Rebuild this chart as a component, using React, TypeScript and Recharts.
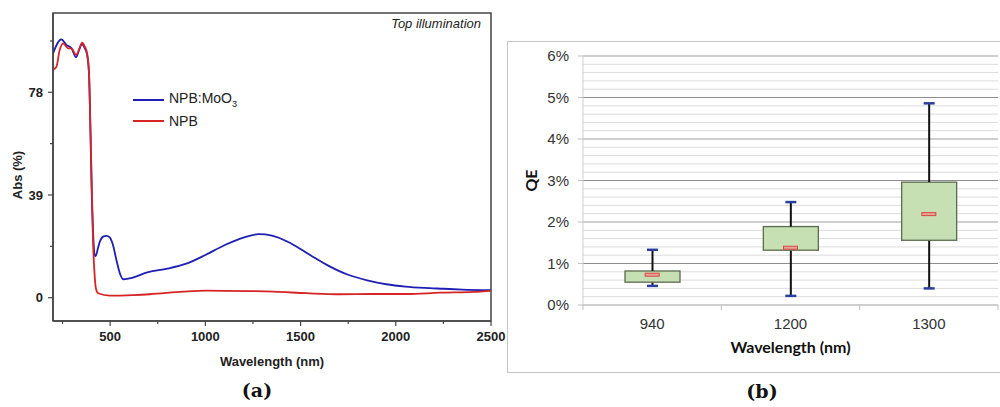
import React from "react";
import {
  LineChart,
  Line,
  XAxis,
  YAxis,
  ReferenceArea,
  Legend,
  ComposedChart,
  Bar,
  CartesianGrid,
  Label,
} from "recharts";

// ---- (a) absorption spectra ----
const moo3Wavelength = [
  200, 244, 270, 297, 321, 340, 352, 367, 379, 389, 397, 403, 410, 419, 424,
  435, 446, 463, 481, 498, 515, 533, 551, 568, 600, 700, 800, 900, 1000, 1100,
  1200, 1280, 1350, 1450, 1550, 1650, 1750, 1850, 1950, 2050, 2150, 2250, 2350,
  2500,
];
const moo3Abs = [
  92.8, 98.1, 96.0, 94.7, 91.3, 94.7, 96.3, 94.7, 92.2, 85.2, 62.5, 41.0, 25.7,
  16.2, 15.8, 18.5, 21.3, 23.2, 23.5, 22.9, 20.0, 14.3, 9.3, 7.0, 7.3, 9.7, 11.0,
  12.9, 16.2, 19.9, 22.8, 24.1, 23.6, 20.6, 16.2, 12.0, 8.7, 6.6, 5.1, 4.2, 3.7,
  3.4, 3.1, 2.9,
];
const npbWavelength = [
  200, 218, 235, 253, 279, 297, 321, 340, 352, 367, 379, 389, 397, 404, 410,
  417, 425, 437, 498, 621, 708, 883, 1003, 1234, 1357, 1532, 1707, 1881, 2058,
  2233, 2408, 2500,
];
const npbAbs = [
  86.5, 87.7, 94.0, 96.6, 94.7, 94.7, 92.2, 94.8, 96.8, 95.3, 92.8, 85.2, 62.5,
  40.9, 21.9, 10.5, 3.7, 1.7, 0.8, 1.0, 1.3, 2.3, 2.7, 2.5, 2.3, 1.7, 1.3, 1.4,
  1.4, 1.9, 2.2, 2.6,
];
const absDomain = [-8.85, 108.1];
const absTicks = [0, 19.5, 39, 58.5, 78, 97.5];
const absLabelTicks = [0, 39, 78];
const waveTicks = [250, 500, 750, 1000, 1250, 1500, 1750, 2000, 2250, 2500];
const waveLabelTicks = [500, 1000, 1500, 2000, 2500];
const legendOrder = ["NPB:MoO3", "NPB"];

// ---- (b) QE box plot (values in %) ----
const categories = ["940", "1200", "1300"];
const qeMin = [0.46, 0.22, 0.4];
const qeQ1 = [0.55, 1.32, 1.56];
const qeMedian = [0.73, 1.38, 2.19];
const qeQ3 = [0.82, 1.89, 2.96];
const qeMax = [1.33, 2.48, 4.86];
const qeTicks = [0, 1, 2, 3, 4, 5, 6];
const qeGridOdd = [1, 3, 5];
const qeGridEven = [2, 4, 6];
const qeGridMinor = [
  0.2, 0.4, 0.6, 0.8, 1.2, 1.4, 1.6, 1.8, 2.2, 2.4, 2.6, 2.8, 3.2, 3.4, 3.6,
  3.8, 4.2, 4.4, 4.6, 4.8, 5.2, 5.4, 5.6, 5.8,
];

const moo3Data = moo3Wavelength.map((w, i) => ({ wavelength: w, abs: moo3Abs[i] }));
const npbData = npbWavelength.map((w, i) => ({ wavelength: w, abs: npbAbs[i] }));

const boxData = categories.map((c, i) => ({
  wavelength: c,
  base: qeMin[i],
  lower: qeQ1[i] - qeMin[i],
  box: qeQ3[i] - qeQ1[i],
  upper: qeMax[i] - qeQ3[i],
  median: qeMedian[i],
}));

const ARIAL = "'Liberation Sans', Arial, sans-serif";
const AXIS_DARK = "#454545";

const AbsTick = (props: any) => {
  const { x, y, payload } = props;
  const major = absLabelTicks.includes(payload.value);
  return (
    <g>
      <line x1={x - (major ? 5 : 3)} x2={x} y1={y} y2={y} stroke={AXIS_DARK} strokeWidth={1.2} />
      {major && (
        <text x={x - 10} y={y} dy="0.35em" textAnchor="end" fontSize={13} fontWeight="bold" fontFamily={ARIAL} fill="#222">
          {payload.value}
        </text>
      )}
    </g>
  );
};

const WaveTick = (props: any) => {
  const { x, y, payload } = props;
  const major = waveLabelTicks.includes(payload.value);
  return (
    <g>
      <line x1={x} x2={x} y1={y} y2={y + (major ? 5 : 3)} stroke={AXIS_DARK} strokeWidth={1.2} />
      {major && (
        <text x={x} y={y + 20} textAnchor="middle" fontSize={13} fontWeight="bold" fontFamily={ARIAL} fill="#222">
          {payload.value}
        </text>
      )}
    </g>
  );
};

const renderAbsLegend = (props: any) => {
  const items = [...(props.payload || [])].sort(
    (a: any, b: any) => legendOrder.indexOf(a.value) - legendOrder.indexOf(b.value)
  );
  return (
    <div style={{ fontFamily: ARIAL, fontSize: 14, color: "#222" }}>
      {items.map((entry: any) => (
        <div key={entry.value} style={{ display: "flex", alignItems: "center", height: 21 }}>
          <svg width={31} height={4} style={{ marginRight: 5 }}>
            <line x1={0} x2={31} y1={2} y2={2} stroke={entry.color} strokeWidth={2} />
          </svg>
          <span>
            {entry.value === "NPB:MoO3" ? (
              <>
                NPB:MoO<sub style={{ fontSize: 9 }}>3</sub>
              </>
            ) : (
              entry.value
            )}
          </span>
        </div>
      ))}
    </div>
  );
};

const QeTick = (props: any) => {
  const { x, y, payload } = props;
  return (
    <g>
      <line x1={x - 5} x2={x} y1={y} y2={y} stroke="#bfbfbf" />
      <text x={x - 14} y={y} dy="0.35em" textAnchor="end" fontSize={15} fontFamily={ARIAL} fill="#333">
        {`${payload.value}%`}
      </text>
    </g>
  );
};

const CatTick = (props: any) => {
  const { x, y, payload, index, visibleTicksCount } = props;
  const half = payload.offset;
  return (
    <g>
      <line x1={x - half} x2={x - half} y1={y} y2={y + 5} stroke="#bfbfbf" />
      {index === visibleTicksCount - 1 && (
        <line x1={x + half} x2={x + half} y1={y} y2={y + 5} stroke="#bfbfbf" />
      )}
      <text x={x} y={y + 24} textAnchor="middle" fontSize={15} fontFamily={ARIAL} fill="#333">
        {payload.value}
      </text>
    </g>
  );
};

const LowerWhisker = (p: any) => {
  const cx = p.x + p.width / 2;
  const bottom = p.y + p.height;
  return (
    <g>
      <line x1={cx} x2={cx} y1={p.y} y2={bottom} stroke="#111" strokeWidth={2} />
      <line x1={cx - 5.5} x2={cx + 5.5} y1={bottom} y2={bottom} stroke="#2c3f9e" strokeWidth={2.5} />
    </g>
  );
};

const UpperWhisker = (p: any) => {
  const cx = p.x + p.width / 2;
  return (
    <g>
      <line x1={cx} x2={cx} y1={p.y} y2={p.y + p.height} stroke="#111" strokeWidth={2} />
      <line x1={cx - 5.5} x2={cx + 5.5} y1={p.y} y2={p.y} stroke="#2c3f9e" strokeWidth={2.5} />
    </g>
  );
};

const BoxShape = (p: any) => (
  <rect x={p.x} y={p.y} width={p.width} height={p.height} fill="#c6e0b4" stroke="#5b6b4e" strokeWidth={1.3} />
);

const MedianMark = (p: any) => {
  if (p.cx == null || p.cy == null) return <g />;
  return <rect x={p.cx - 7} y={p.cy - 1.5} width={14} height={3} fill="#e8a39d" stroke="#d9483f" strokeWidth={1} />;
};

export default function App() {
  return (
    <div style={{ position: "fixed", left: 0, top: 0, width: 1000, height: 407, background: "#fff", overflow: "hidden" }}>
      {/* (a) */}
      <div style={{ position: "absolute", left: 0, top: 0 }}>
        <LineChart width={520} height={407} margin={{ top: 13, right: 29, bottom: 56, left: 0 }}>
          <XAxis
            dataKey="wavelength"
            type="number"
            domain={[200, 2500]}
            ticks={waveTicks}
            interval={0}
            allowDataOverflow
            height={30}
            tickSize={0}
            tickMargin={0}
            tick={<WaveTick />}
            stroke={AXIS_DARK}
            strokeWidth={1.5}
          >
            <Label
              content={(props: any) => {
                const vb = props.viewBox;
                return (
                  <text x={vb.x + vb.width / 2} y={vb.y + 45} textAnchor="middle" fontSize={13} fontWeight="bold" fontFamily={ARIAL} fill="#222">
                    Wavelength (nm)
                  </text>
                );
              }}
            />
          </XAxis>
          <YAxis
            type="number"
            domain={absDomain}
            ticks={absTicks}
            interval={0}
            allowDataOverflow
            width={53}
            tickSize={0}
            tickMargin={0}
            tick={<AbsTick />}
            stroke={AXIS_DARK}
            strokeWidth={1.5}
          >
            <Label
              content={(props: any) => {
                const vb = props.viewBox;
                const cx = 22;
                const cy = vb.y + vb.height / 2 + 8;
                return (
                  <text x={cx} y={cy} transform={`rotate(-90, ${cx}, ${cy})`} textAnchor="middle" fontSize={13} fontWeight="bold" fontFamily={ARIAL} fill="#222">
                    Abs (%)
                  </text>
                );
              }}
            />
          </YAxis>
          <ReferenceArea x1={200} x2={2500} y1={absDomain[0]} y2={absDomain[1]} fill="none" stroke={AXIS_DARK} strokeWidth={1.5} />
          <Line
            data={moo3Data}
            dataKey="abs"
            name="NPB:MoO3"
            type="monotone"
            stroke="#1f1fb4"
            strokeWidth={1.8}
            dot={false}
            isAnimationActive={false}
          />
          <Line
            data={npbData}
            dataKey="abs"
            name="NPB"
            type="monotone"
            stroke="#d62424"
            strokeWidth={1.8}
            dot={false}
            isAnimationActive={false}
          />
          <Legend
            layout="vertical"
            align="center"
            verticalAlign="middle"
            content={renderAbsLegend}
            wrapperStyle={{ left: 133, top: 89, width: "auto" }}
          />
        </LineChart>
        <div
          style={{
            position: "absolute",
            left: 300,
            width: 181,
            top: 16,
            textAlign: "right",
            fontFamily: ARIAL,
            fontStyle: "italic",
            fontSize: 13,
            lineHeight: "16px",
            color: "#222",
          }}
        >
          Top illumination
        </div>
      </div>

      {/* (b) */}
      <div style={{ position: "absolute", left: 507, top: 41, border: "1px solid #c4c4c4", width: 492, height: 330, background: "#fff" }}>
        <ComposedChart width={492} height={330} data={boxData} margin={{ top: 14, right: 2, bottom: 0, left: 0 }}>
          <CartesianGrid vertical={false} horizontalValues={qeGridMinor} stroke="#dcdcdc" />
          <CartesianGrid vertical={false} horizontalValues={qeGridEven} stroke="#cfcfcf" strokeWidth={2} />
          <CartesianGrid vertical={false} horizontalValues={qeGridOdd} stroke="#8c8c8c" />
          <XAxis
            dataKey="wavelength"
            type="category"
            height={67}
            interval={0}
            tickSize={0}
            tickMargin={0}
            tick={<CatTick />}
            stroke="#cfcfcf"
            strokeWidth={2}
          >
            <Label
              content={(props: any) => {
                const vb = props.viewBox;
                return (
                  <text x={vb.x + vb.width / 2} y={vb.y + 48} textAnchor="middle" fontSize={16} fontWeight="bold" fontFamily="Lato, sans-serif" fill="#111">
                    Wavelength (nm)
                  </text>
                );
              }}
            />
          </XAxis>
          <YAxis
            type="number"
            domain={[0, 6]}
            ticks={qeTicks}
            interval={0}
            width={75}
            tickSize={0}
            tickMargin={0}
            tick={<QeTick />}
            stroke="#d0d0d0"
          >
            <Label
              content={(props: any) => {
                const vb = props.viewBox;
                const cx = vb.x + 29;
                const cy = vb.y + vb.height / 2;
                return (
                  <text x={cx} y={cy} transform={`rotate(-90, ${cx}, ${cy})`} textAnchor="middle" fontSize={16} fontWeight="bold" fontFamily="Lato, sans-serif" fill="#111">
                    QE
                  </text>
                );
              }}
            />
          </YAxis>
          <YAxis yAxisId="frame" orientation="right" domain={[0, 6]} width={0} tick={false} stroke="#d6d6d6" />
          <Bar dataKey="base" stackId="qe" barSize={55} fill="none" isAnimationActive={false} />
          <Bar dataKey="lower" stackId="qe" barSize={55} shape={<LowerWhisker />} isAnimationActive={false} />
          <Bar dataKey="box" stackId="qe" barSize={55} shape={<BoxShape />} isAnimationActive={false} />
          <Bar dataKey="upper" stackId="qe" barSize={55} shape={<UpperWhisker />} isAnimationActive={false} />
          <Line dataKey="median" stroke="none" dot={<MedianMark />} activeDot={false} isAnimationActive={false} />
        </ComposedChart>
      </div>

      <div style={{ position: "absolute", left: 207, width: 100, top: 379, textAlign: "center", fontFamily: "'DejaVu Serif', serif", fontWeight: "bold", fontSize: 19, color: "#111" }}>
        (a)
      </div>
      <div style={{ position: "absolute", left: 712, width: 100, top: 380, textAlign: "center", fontFamily: "'DejaVu Serif', serif", fontWeight: "bold", fontSize: 19, color: "#111" }}>
        (b)
      </div>
    </div>
  );
}
